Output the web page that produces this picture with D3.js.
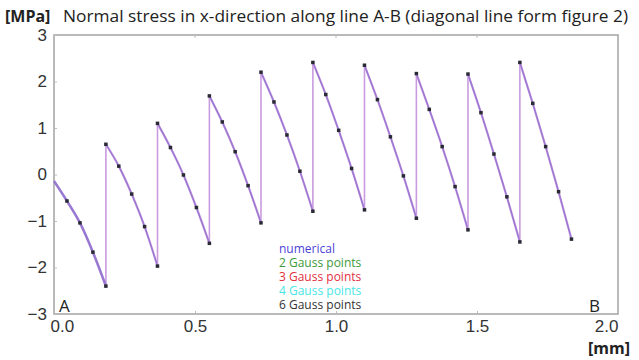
<!DOCTYPE html>
<html>
<head>
<meta charset="utf-8">
<script src="https://cdn.jsdelivr.net/npm/d3@7"></script>
<style>
    body { margin: 0; background: #fff; }
    svg { display: block; font-family: "Open Sans", sans-serif; }
</style>
</head>
<body>
<svg id="chart"></svg>
<script>
const width = 639;
const height = 360;

// Element boundaries along line A-B [mm]
const segX = [0, 0.184, 0.367, 0.551, 0.734, 0.918, 1.101, 1.285, 1.468, 1.652, 1.835];
// Local positions of the plotted points inside an element
const subPos = [0, 0.25, 0.5, 0.75, 1];
// Stress values per element [MPa]
const stress = [
    [-0.14, -0.57, -1.04, -1.67, -2.40],
    [0.65, 0.18, -0.42, -1.12, -1.97],
    [1.10, 0.58, -0.01, -0.71, -1.48],
    [1.69, 1.13, 0.49, -0.24, -1.04],
    [2.20, 1.56, 0.85, 0.07, -0.79],
    [2.41, 1.72, 0.95, 0.13, -0.76],
    [2.35, 1.61, 0.81, -0.03, -0.94],
    [2.17, 1.40, 0.60, -0.26, -1.19],
    [2.16, 1.33, 0.44, -0.48, -1.45],
    [2.41, 1.53, 0.60, -0.37, -1.39]
];

const xTicks = [0, 0.5, 1.0, 1.5, 2.0];
const yTicks = [-3, -2, -1, 0, 1, 2, 3];
const legendNames = ["numerical", "2 Gauss points", "3 Gauss points", "4 Gauss points", "6 Gauss points"];
const legendColors = ["#4a3fd6", "#3c9a3c", "#e2303e", "#48e6e6", "#333333"];

const svg = d3.select("#chart")
    .attr("width", width)
    .attr("height", height);

const x = d3.scaleLinear().domain([0, 2]).range([54, 618]);
const y = d3.scaleLinear().domain([-3, 3]).range([314, 35]);

// Build point lists per element
const segments = stress.map((vals, i) => vals.map((v, j) => ({
    x: segX[i] + subPos[j] * (segX[i + 1] - segX[i]),
    y: v
})));

// Frame
svg.append("rect")
    .attr("x", x(0))
    .attr("y", y(3))
    .attr("width", x(2) - x(0))
    .attr("height", y(-3) - y(3))
    .attr("fill", "none")
    .attr("stroke", "#a3a3a3")
    .attr("stroke-width", 1.5);

// Axes
const xAxis = svg.append("g")
    .attr("transform", `translate(0,${y(-3)})`)
    .call(d3.axisBottom(x).tickValues(xTicks).tickSize(-3).tickPadding(6).tickFormat(d3.format(".1f")));
xAxis.select(".domain").remove();
xAxis.selectAll("line").attr("stroke", "#bbb");
xAxis.selectAll("text")
    .attr("fill", "#333")
    .style("font-size", "17px")
    .attr("text-anchor", (d, i) => i === 0 ? "start" : (i === xTicks.length - 1 ? "end" : "middle"))
    .attr("dx", (d, i) => i === 0 ? -4 : 0);

const yAxis = svg.append("g")
    .attr("transform", `translate(${x(0)},0)`)
    .call(d3.axisLeft(y).tickValues(yTicks).tickSize(-3).tickPadding(7).tickFormat(d3.format("d")));
yAxis.select(".domain").remove();
yAxis.selectAll("line").attr("stroke", "#bbb");
yAxis.selectAll("text")
    .attr("fill", "#333")
    .style("font-size", "17px");

// Top ticks on the frame
svg.append("g")
    .selectAll("line")
    .data(xTicks.slice(1, -1))
    .enter().append("line")
    .attr("x1", d => x(d))
    .attr("x2", d => x(d))
    .attr("y1", y(3))
    .attr("y2", y(3) + 3)
    .attr("stroke", "#bbb");

// Curves
const line = d3.line()
    .x(d => x(d.x))
    .y(d => y(d.y))
    .curve(d3.curveMonotoneX);

// Jumps between elements
svg.append("g")
    .selectAll("line")
    .data(segments.slice(1))
    .enter().append("line")
    .attr("x1", d => x(d[0].x))
    .attr("x2", d => x(d[0].x))
    .attr("y1", (d, i) => y(segments[i][4].y))
    .attr("y2", d => y(d[0].y))
    .attr("stroke", "#c99be0")
    .attr("stroke-width", 1.6);

// Gauss point results (overlapping)
svg.append("g")
    .selectAll("path")
    .data(segments)
    .enter().append("path")
    .attr("d", line)
    .attr("fill", "none")
    .attr("stroke", "#c99be0")
    .attr("stroke-width", 2.2);

// Numerical solution
svg.append("g")
    .selectAll("path")
    .data(segments)
    .enter().append("path")
    .attr("d", line)
    .attr("fill", "none")
    .attr("stroke", "#6a52c4")
    .attr("stroke-opacity", 0.5)
    .attr("stroke-width", (d, i) => i === 0 ? 2.6 : 1.3);

// Point markers
svg.append("g")
    .selectAll("rect")
    .data(segments.flat().slice(1))
    .enter().append("rect")
    .attr("x", d => x(d.x) - 1.75)
    .attr("y", d => y(d.y) - 1.75)
    .attr("width", 3.5)
    .attr("height", 3.5)
    .attr("fill", "#2a2a35");

// Legend
svg.append("g")
    .selectAll("text")
    .data(legendNames)
    .enter().append("text")
    .attr("x", 279)
    .attr("y", (d, i) => 253 + i * 14)
    .attr("fill", (d, i) => legendColors[i])
    .style("font-size", "12px")
    .text(d => d);

// Labels
svg.append("text")
    .attr("x", 5)
    .attr("y", 22)
    .attr("fill", "#222")
    .style("font-size", "16px")
    .style("font-weight", "bold")
    .text("[MPa]");

svg.append("text")
    .attr("x", 63)
    .attr("y", 22)
    .attr("fill", "#222")
    .attr("textLength", 565)
    .attr("lengthAdjust", "spacingAndGlyphs")
    .style("font-size", "17px")
    .text("Normal stress in x-direction along line A-B (diagonal line form figure 2)");

svg.append("text")
    .attr("x", 59)
    .attr("y", 312)
    .attr("fill", "#222")
    .style("font-size", "17px")
    .text("A");

svg.append("text")
    .attr("x", 589)
    .attr("y", 312)
    .attr("fill", "#222")
    .style("font-size", "17px")
    .text("B");

svg.append("text")
    .attr("x", 630)
    .attr("y", 354)
    .attr("text-anchor", "end")
    .attr("fill", "#222")
    .style("font-size", "16px")
    .style("font-weight", "bold")
    .text("[mm]");
</script>
</body>
</html>
